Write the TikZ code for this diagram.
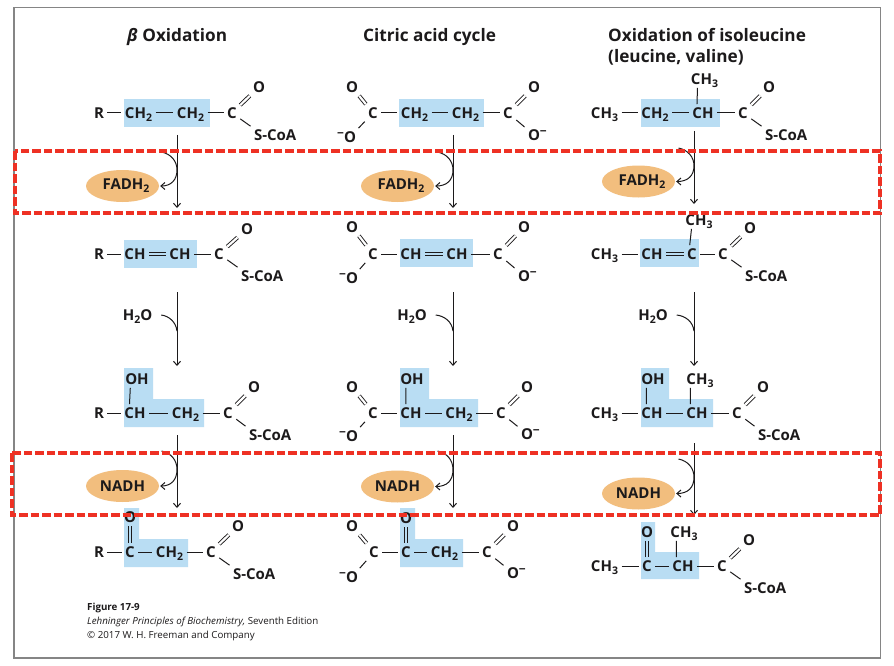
\documentclass[tikz,border=0pt]{standalone}
\usepackage{fontspec}
\setmainfont{Open Sans}
\usetikzlibrary{arrows.meta,calc,shapes.geometric}
\definecolor{ink}{HTML}{1C1A1B}
\definecolor{boxblue}{HTML}{B9DDF3}
\definecolor{enzorange}{HTML}{F2BE7E}
\definecolor{markred}{HTML}{EE3124}
\definecolor{framegray}{HTML}{858585}
\newcommand{\sbs}[1]{\raisebox{-3pt}{\fontsize{10.5}{10.5}\selectfont #1}}
\newcommand{\minusr}{\rlap{\raisebox{4.5pt}{\fontsize{12}{12}\selectfont −}}}
\newcommand{\minusl}{\llap{\raisebox{4.5pt}{\fontsize{12}{12}\selectfont −}}}
\newcommand{\fadh}{\makebox[0pt]{\hspace*{7pt}FADH\sbs{2}}}
\newcommand{\nadh}{\makebox[0pt]{NADH}}
\tikzset{
  x=1pt,y=-1pt,
  atom/.style={inner sep=0pt,outer sep=3.5pt,text height=10.7pt,text depth=0pt,text=ink,font=\bfseries\fontsize{15}{15}\selectfont},
  bond/.style={draw=ink,line width=1pt},
  dbl/.style={draw=ink,line width=.9pt,double=white,double distance=2.2pt},
  dblb/.style={dbl,double=boxblue},
  rxn/.style={draw=ink,line width=1pt,-{Straight Barb[length=4pt,width=7pt]}},
  rxnline/.style={draw=ink,line width=1pt},
  shade/.style={fill=boxblue},
  enz/.style={ellipse,fill=enzorange,minimum width=73pt,minimum height=32pt,inner sep=0pt,text=ink,font=\bfseries\fontsize{15}{15}\selectfont},
  title/.style={anchor=base west,inner sep=0pt,text=ink,font=\bfseries\fontsize{17.2}{17.2}\selectfont},
  caption/.style={anchor=base west,inner sep=0pt,text=ink,font=\fontsize{9.75}{10}\selectfont},
  redbox/.style={draw=markred,line width=3.2pt,dash pattern=on 8.5pt off 3pt},
}
% acyl-CoA tail: prefix, Cx, y, Ox, Oy, S left x, Sy
\newcommand{\coatail}[7]{%
  \node[atom] (#1C) at (#2,#3) {C};
  \node[atom] (#1O) at (#4,#5) {O};
  \node[atom,anchor=west] (#1S) at (#6-3.5,#7) {S-CoA};
  \draw[dbl] (#1C) -- (#1O);
  \draw[bond] (#1C) -- (#1S.north west);}
% carboxylate, left: prefix, Cx, Cy, Ox, Oy, O-x, O-y
\newcommand{\cool}[7]{%
  \node[atom] (#1C) at (#2,#3) {C};
  \node[atom] (#1O) at (#4,#5) {O};
  \node[atom] (#1M) at (#6,#7) {\minusl O};
  \draw[dbl] (#1C) -- (#1O);
  \draw[bond] (#1C) -- (#1M);}
% carboxylate, right
\newcommand{\coor}[7]{%
  \node[atom] (#1C) at (#2,#3) {C};
  \node[atom] (#1O) at (#4,#5) {O};
  \node[atom] (#1M) at (#6,#7) {O\minusr};
  \draw[dbl] (#1C) -- (#1O);
  \draw[bond] (#1C) -- (#1M);}
% redox step: name, arrow x, top y, bottom y, curve start y, ellipse x, ellipse y, label
\newcommand{\redox}[8]{%
  \node[enz] (#1E) at (#6,#7) {#8};
  \coordinate (#1T) at (#2,#3);
  \coordinate (#1B) at (#2,#4);
  \coordinate (#1S) at (#2-15.5,#5);
  \coordinate (#1M) at (#2,{(#5+#7)/2+1});
  \draw[rxn] (#1T) -- (#1B);
  \draw[rxn] (#1S) .. controls (#2-6,#5+2) and (#2,#5+9) .. (#1M)
     .. controls (#2,#7-6) and (#2-6,#7) .. ([xshift=1pt]#1E.east);}
% hydration step: name, arrow x, water x
\newcommand{\hydr}[3]{%
  \node[atom,anchor=center] (#1W) at (#3,315) {H\sbs{2}O};
  \coordinate (#1T) at (#2,292);
  \coordinate (#1B) at (#2,366);
  \coordinate (#1S) at ($(#1W.east)+(5.5,0)$);
  \coordinate (#1M) at (#2,331);
  \draw[rxn] (#1T) -- (#1B);
  \draw[rxnline] (#1S) .. controls (#2-8,316) and (#2-1,322) .. (#1M);}
\begin{document}
\begin{tikzpicture}
\useasboundingbox (0,0) rectangle (894,666);
\fill[white] (0,0) rectangle (894,666);
\draw[framegray,line width=1.3pt] (14,7.5) rectangle (880.5,658);

% titles
\node[title] (t1) at (127,42) {\textit{β} Oxidation};
\node[title] (t2) at (363,42) {Citric acid cycle};
\node[title] (t3a) at (608,41.5) {Oxidation of isoleucine};
\node[title] (t3b) at (608,62.5) {(leucine, valine)};

% blue shading
\fill[shade] (124,99) rectangle (210,127);
\fill[shade] (399,99) rectangle (484,127);
\fill[shade] (641,99) rectangle (720,127);
\fill[shade] (124,240) rectangle (197,268);
\fill[shade] (400,239) rectangle (473,267);
\fill[shade] (640,239) rectangle (699,267);
\fill[shade] (124,368) -- (153,368) -- (153,399) -- (204,399) -- (204,427) -- (124,427) -- cycle;
\fill[shade] (400,368) -- (429,368) -- (429,399) -- (478,399) -- (478,427) -- (400,427) -- cycle;
\fill[shade] (641,368) -- (669,368) -- (669,399) -- (713,399) -- (713,427) -- (641,427) -- cycle;
\fill[shade] (124,508) -- (139,508) -- (139,539) -- (188,539) -- (188,567) -- (124,567) -- cycle;
\fill[shade] (400,508) -- (415,508) -- (415,539) -- (463,539) -- (463,567) -- (400,567) -- cycle;
\fill[shade] (641,522) -- (655,522) -- (655,552) -- (699,552) -- (699,579) -- (641,579) -- cycle;

% column 1, row 1
\node[atom] (a1R) at (99,113) {R};
\node[atom] (a1x) at (138.5,113) {CH\sbs{2}};
\node[atom] (a1y) at (190.5,113) {CH\sbs{2}};
\coatail{a1}{232}{113}{259}{87}{254}{135}
\draw[bond] (a1R) -- (a1x);
\draw[bond] (a1x) -- (a1y);
\draw[bond] (a1y) -- (a1C);
% column 1, row 2
\node[atom] (a2R) at (99,254) {R};
\node[atom] (a2x) at (135,254) {CH};
\node[atom] (a2y) at (180,254) {CH};
\coatail{a2}{219}{254}{247}{229}{241}{276}
\draw[bond] (a2R) -- (a2x);
\draw[dblb] (a2x) -- (a2y);
\draw[bond] (a2y) -- (a2C);
% column 1, row 3
\node[atom] (a3R) at (99,413) {R};
\node[atom] (a3x) at (135,413) {CH};
\node[atom] (a3h) at (137,379) {OH};
\node[atom] (a3y) at (185.5,413) {CH\sbs{2}};
\coatail{a3}{228}{413}{254}{387}{249}{435}
\draw[bond] (a3R) -- (a3x);
\draw[bond] (a3x) -- (a3y);
\draw[bond] (a3y) -- (a3C);
\draw[bond] ([xshift=8.5pt]a3h.south west) -- ([xshift=8.5pt]a3x.north west);
% column 1, row 4
\node[atom] (a4R) at (99,552) {R};
\node[atom] (a4x) at (130,552) {C};
\node[atom] (a4k) at (130,517) {O};
\node[atom] (a4y) at (169.5,552) {CH\sbs{2}};
\coatail{a4}{211}{552}{238}{526}{233}{574}
\draw[bond] (a4R) -- (a4x);
\draw[bond] (a4x) -- (a4y);
\draw[bond] (a4y) -- (a4C);
\draw[dblb] (a4x) -- (a4k);

% column 2, row 1
\cool{b1l}{373}{113}{352}{87}{350}{137}
\node[atom] (b1x) at (414.5,113) {CH\sbs{2}};
\node[atom] (b1y) at (465.5,113) {CH\sbs{2}};
\coor{b1r}{508}{113}{534}{87}{534}{135}
\draw[bond] (b1lC) -- (b1x);
\draw[bond] (b1x) -- (b1y);
\draw[bond] (b1y) -- (b1rC);
% column 2, row 2
\cool{b2l}{373}{254}{352}{227}{352}{278}
\node[atom] (b2x) at (411,254) {CH};
\node[atom] (b2y) at (457,254) {CH};
\coor{b2r}{498}{254}{524}{227}{524}{276}
\draw[bond] (b2lC) -- (b2x);
\draw[dblb] (b2x) -- (b2y);
\draw[bond] (b2y) -- (b2rC);
% column 2, row 3
\cool{b3l}{373}{413}{352}{387}{352}{436}
\node[atom] (b3x) at (411,413) {CH};
\node[atom] (b3h) at (412,379) {OH};
\node[atom] (b3y) at (459,413) {CH\sbs{2}};
\coor{b3r}{501}{413}{527}{387}{527}{434}
\draw[bond] (b3lC) -- (b3x);
\draw[bond] (b3x) -- (b3y);
\draw[bond] (b3y) -- (b3rC);
\draw[bond] ([xshift=9pt]b3h.south west) -- ([xshift=9pt]b3x.north west);
% column 2, row 4
\cool{b4l}{374}{552}{352}{526}{352}{577}
\node[atom] (b4x) at (406,552) {C};
\node[atom] (b4k) at (406,518) {O};
\node[atom] (b4y) at (444.5,552) {CH\sbs{2}};
\coor{b4r}{487}{552}{513}{526}{513}{573}
\draw[bond] (b4lC) -- (b4x);
\draw[bond] (b4x) -- (b4y);
\draw[bond] (b4y) -- (b4rC);
\draw[dblb] (b4x) -- (b4k);

% column 3, row 1
\node[atom] (c1m) at (604.5,113) {CH\sbs{3}};
\node[atom] (c1x) at (655,113) {CH\sbs{2}};
\node[atom] (c1y) at (703,113) {CH};
\node[atom] (c1t) at (704.5,79) {CH\sbs{3}};
\coatail{c1}{743}{113}{769}{87}{765}{135}
\draw[bond] (c1m) -- (c1x);
\draw[bond] (c1x) -- (c1y);
\draw[bond] (c1y) -- (c1C);
\draw[bond] ([xshift=10pt]c1t.south west) -- ([xshift=8pt]c1y.north west);
% column 3, row 2
\node[atom] (c2m) at (604.5,254) {CH\sbs{3}};
\node[atom] (c2x) at (652,254) {CH};
\node[atom] (c2y) at (692,254) {C};
\node[atom] (c2t) at (699,220) {CH\sbs{3}};
\coatail{c2}{723}{254}{750}{228}{745}{276}
\draw[bond] (c2m) -- (c2x);
\draw[dblb] (c2x) -- (c2y);
\draw[bond] (c2y) -- (c2C);
\draw[bond] ([xshift=9.5pt]c2t.south west) -- ([xshift=6pt]c2y.north west);
% column 3, row 3
\node[atom] (c3m) at (604.5,413) {CH\sbs{3}};
\node[atom] (c3x) at (652,413) {CH};
\node[atom] (c3h) at (653,379) {OH};
\node[atom] (c3y) at (697,413) {CH};
\node[atom] (c3t) at (700,379) {CH\sbs{3}};
\coatail{c3}{737}{413}{763}{387}{758}{435}
\draw[bond] (c3m) -- (c3x);
\draw[bond] (c3x) -- (c3y);
\draw[bond] (c3y) -- (c3C);
\draw[bond] ([xshift=8.5pt]c3h.south west) -- ([xshift=8.5pt]c3x.north west);
\draw[bond] ([xshift=7.5pt]c3t.south west) -- ([xshift=7.5pt]c3y.north west);
% column 3, row 4
\node[atom] (c4m) at (604.5,566) {CH\sbs{3}};
\node[atom] (c4x) at (647,566) {C};
\node[atom] (c4k) at (647,532) {O};
\node[atom] (c4y) at (683,566) {CH};
\node[atom] (c4t) at (684,532) {CH\sbs{3}};
\coatail{c4}{722}{566}{749}{540}{744}{588}
\draw[bond] (c4m) -- (c4x);
\draw[bond] (c4x) -- (c4y);
\draw[bond] (c4y) -- (c4C);
\draw[dblb] (c4x) -- (c4k);
\draw[bond] ([xshift=9.5pt]c4t.south west) -- ([xshift=7.5pt]c4y.north west);

% reaction steps
\redox{s11}{177}{135}{208}{152}{122.5}{186}{\fadh}
\redox{s12}{453}{135}{208}{152}{397.5}{186}{\fadh}
\redox{s13}{694}{131}{204}{148}{638.5}{181.5}{\fadh}
\hydr{s21}{177}{137.5}
\hydr{s22}{453}{412}
\hydr{s23}{694}{653}
\redox{s31}{177}{435}{508}{451}{122.5}{486}{\nadh}
\redox{s32}{453}{435}{508}{451}{397.5}{486.5}{\nadh}
\redox{s33}{694}{443}{515}{459}{638.5}{493.5}{\nadh}

% caption
\node[caption,font=\bfseries\fontsize{9.75}{10}\selectfont] (cap1) at (87,610.5) {Figure 17-9};
\node[caption] (cap2) at (87,624) {\textit{Lehninger Principles of Biochemistry,} Seventh Edition};
\node[caption] (cap3) at (87,638) {© 2017 W. H. Freeman and Company};

% red dashed marks
\draw[redbox] (15,151) rectangle (880,213);
\draw[redbox] (12,453) rectangle (880,515);
\end{tikzpicture}
\end{document}
